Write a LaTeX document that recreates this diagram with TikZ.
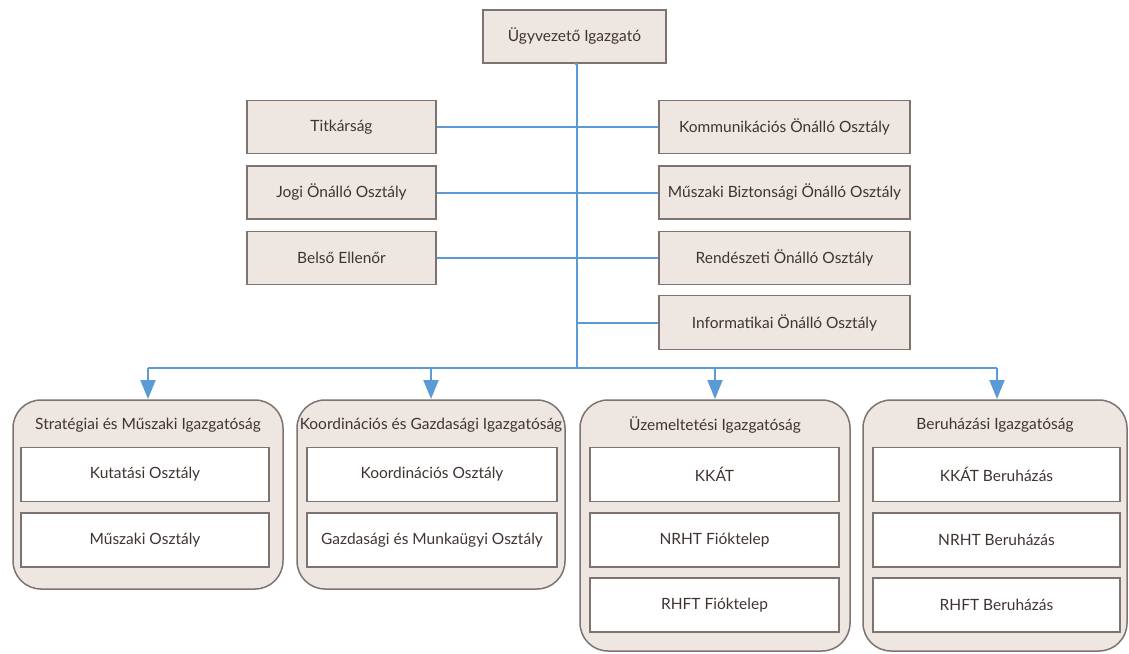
\documentclass[tikz,border=0pt]{standalone}
\usepackage{fontspec}
\setmainfont{Lato}
\usetikzlibrary{arrows.meta}
\definecolor{boxfill}{HTML}{EEE6E1}
\definecolor{bord}{HTML}{7F7370}
\definecolor{txt}{HTML}{3F3431}
\definecolor{conn}{HTML}{5B9BD5}
\tikzset{
  box/.style={draw=bord, fill=boxfill, line width=1.5pt, inner sep=0pt, font=\fontsize{15.5}{18}\selectfont, text=txt},
  inbox/.style={box, fill=white},
  grp/.style={draw=bord, fill=boxfill, line width=1.5pt, rounded corners=28pt},
  gtitle/.style={font=\fontsize{15.5}{18}\selectfont, text=txt, inner sep=0pt},
  link/.style={draw=conn, line width=2pt},
  arr/.style={link, -{Triangle[width=15pt,length=19pt]}}
}
\begin{document}
\begin{tikzpicture}[x=1pt,y=-1pt]
\useasboundingbox[fill=white] (0,0) rectangle (1129,653);
% top
\node[box, minimum width=183pt, minimum height=53pt] (ceo) at (574.5,36.5) {Ügyvezető Igazgató};
\coordinate (spine) at (577,368);
% left column
\node[box, minimum width=189pt, minimum height=53pt] (tit) at (341.5,127) {Titkárság};
\node[box, minimum width=189pt, minimum height=53pt] (jogi) at (341.5,192.5) {Jogi Önálló Osztály};
\node[box, minimum width=189pt, minimum height=53pt] (belso) at (341.5,258) {Belső Ellenőr};
% right column
\node[box, minimum width=251pt, minimum height=53pt] (komm) at (784.5,127) {Kommunikációs Önálló Osztály};
\node[box, minimum width=251pt, minimum height=53pt] (mbiz) at (784.5,192.5) {Műszaki Biztonsági Önálló Osztály};
\node[box, minimum width=251pt, minimum height=53pt] (rend) at (784.5,258) {Rendészeti Önálló Osztály};
\node[box, minimum width=251pt, minimum height=54pt] (info) at (784.5,322.5) {Informatikai Önálló Osztály};
% groups
\draw[grp] (13,400) rectangle (283,589);
\draw[grp] (297,400) rectangle (565,589);
\draw[grp] (580,400) rectangle (850,651);
\draw[grp] (863,400) rectangle (1127,651);
\node[gtitle] (g1) at (148,425) {Stratégiai és Műszaki Igazgatóság};
\node[gtitle] (g2) at (431,425) {Koordinációs és Gazdasági Igazgatóság};
\node[gtitle] (g3) at (715,425) {Üzemeltetési Igazgatóság};
\node[gtitle] (g4) at (995,425) {Beruházási Igazgatóság};
\coordinate (g1top) at (148,399);
\coordinate (g2top) at (431,399);
\coordinate (g3top) at (715,399);
\coordinate (g4top) at (997,399);
% inner boxes
\node[inbox, minimum width=248pt, minimum height=54pt] (kut) at (145,474.5) {Kutatási Osztály};
\node[inbox, minimum width=248pt, minimum height=54pt] (musz) at (145,540) {Műszaki Osztály};
\node[inbox, minimum width=250pt, minimum height=54pt] (koor) at (432,474.5) {Koordinációs Osztály};
\node[inbox, minimum width=250pt, minimum height=54pt] (gazd) at (432,540) {Gazdasági és Munkaügyi Osztály};
\node[inbox, minimum width=249pt, minimum height=54pt] (kkat) at (714.5,474.5) {KKÁT};
\node[inbox, minimum width=249pt, minimum height=54pt] (nrht) at (714.5,540) {NRHT Fióktelep};
\node[inbox, minimum width=249pt, minimum height=54pt] (rhft) at (714.5,605) {RHFT Fióktelep};
\node[inbox, minimum width=247pt, minimum height=54pt] (kkatb) at (996.5,474.5) {KKÁT Beruházás};
\node[inbox, minimum width=247pt, minimum height=54pt] (nrhtb) at (996.5,540) {NRHT Beruházás};
\node[inbox, minimum width=247pt, minimum height=54pt] (rhftb) at (996.5,605) {RHFT Beruházás};
% connectors
\draw[link] (ceo.south) -- (ceo.south -| spine) -- (spine);
\draw[link] (tit.east) -- (tit.east -| spine);
\draw[link] (jogi.east) -- (jogi.east -| spine);
\draw[link] (belso.east) -- (belso.east -| spine);
\draw[link] (komm.west -| spine) -- (komm.west);
\draw[link] (mbiz.west -| spine) -- (mbiz.west);
\draw[link] (rend.west -| spine) -- (rend.west);
\draw[link] (info.west -| spine) -- (info.west);
\draw[link] (g1top |- spine) -- (g4top |- spine);
\draw[arr] (g1top |- spine) -- (g1top);
\draw[arr] (g2top |- spine) -- (g2top);
\draw[arr] (g3top |- spine) -- (g3top);
\draw[arr] (g4top |- spine) -- (g4top);
\end{tikzpicture}
\end{document}
